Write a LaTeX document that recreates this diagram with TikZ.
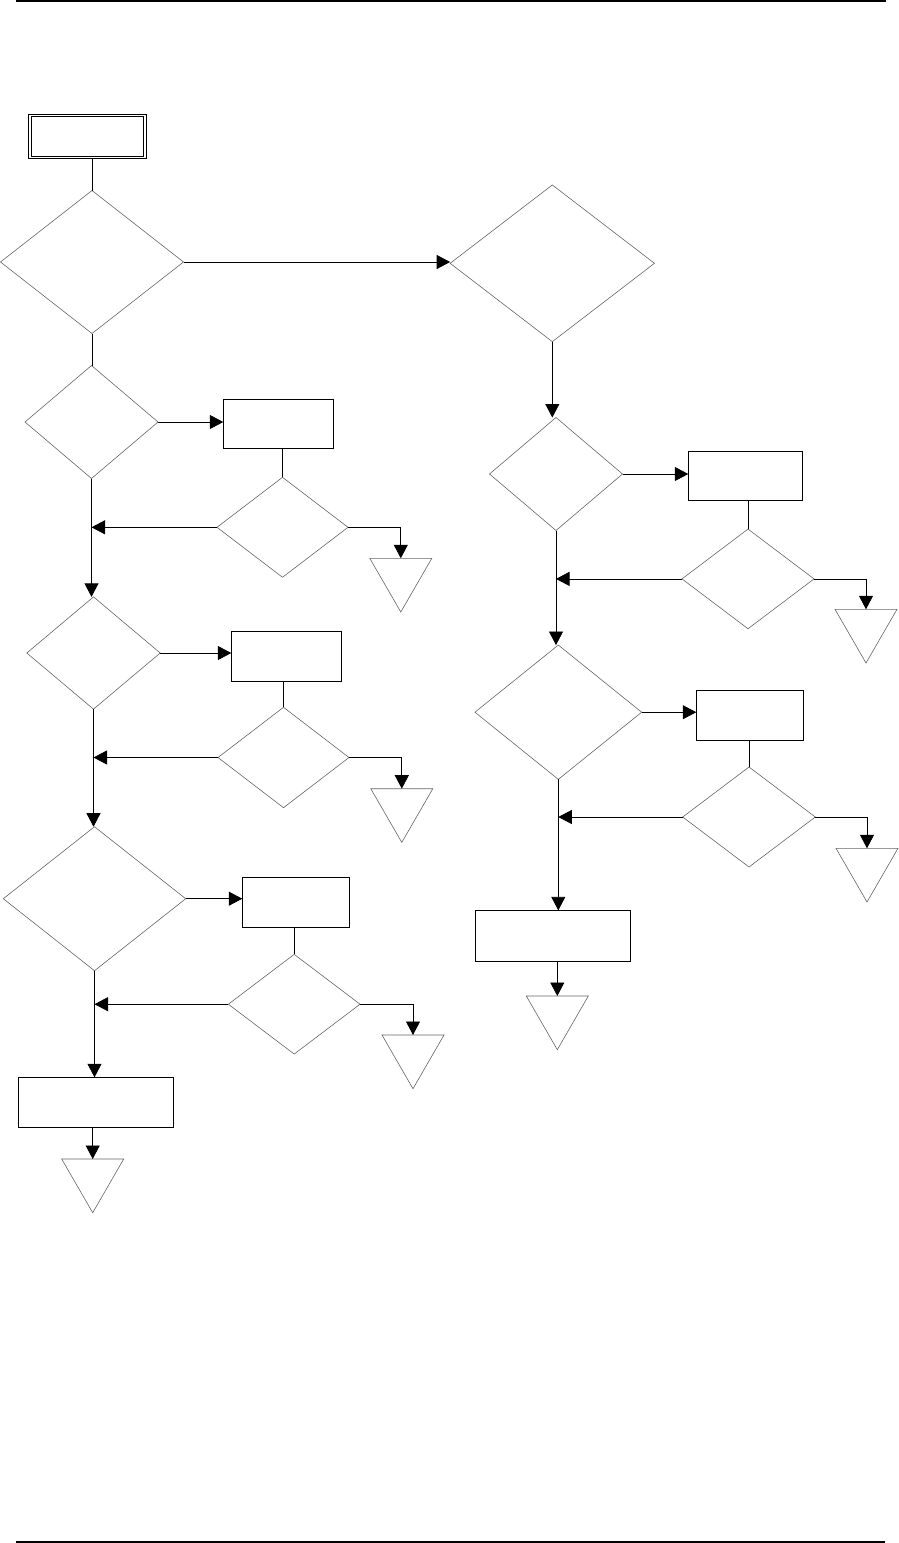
\documentclass[tikz,border=0pt]{standalone}
\usetikzlibrary{shapes.geometric,arrows.meta}
\begin{document}
\begin{tikzpicture}[x=1pt,y=-1pt,
  dec/.style={shape=diamond, draw=black!60, line width=0.6pt, inner sep=0pt, outer sep=0pt},
  procbox/.style={rectangle, draw=black, line width=0.8pt, inner sep=0pt, outer sep=0pt},
  endtri/.style={regular polygon, regular polygon sides=3, shape border rotate=180,
     minimum size=71.6pt, draw=black!60, line width=0.6pt, inner sep=0pt, outer sep=0pt, anchor=north},
  conn/.style={line width=0.8pt, draw=black},
  arr/.style={conn, -{Triangle[length=13.5pt,width=14pt]}}]
\useasboundingbox (0,0) rectangle (899,1543);
\fill[white] (0,0) rectangle (899,1543);
% page rules
\draw[line width=2pt] (16,1) -- (886,1);
\draw[line width=2.4pt] (16,1541.8) -- (885,1541.8);

% left column
\node[procbox, double, double distance=1.7pt, minimum width=115pt, minimum height=42pt] (start) at (87.5,136.5) {};
\node[dec, minimum width=183pt, minimum height=143pt] (d1) at (92,262) {};
\node[dec, minimum width=133pt, minimum height=113pt] (d2) at (91.5,422) {};
\node[procbox, minimum width=110.4pt, minimum height=49pt] (b2) at (278.5,424) {};
\node[dec, minimum width=131pt, minimum height=100pt] (s2) at (282.5,527.3) {};
\node[endtri] (t2) at (400.8,558.3) {};
\node[dec, minimum width=133.4pt, minimum height=112.3pt] (d3) at (93.5,653) {};
\node[procbox, minimum width=110.4pt, minimum height=50pt] (b3) at (286.5,656.3) {};
\node[dec, minimum width=131pt, minimum height=100.4pt] (s3) at (283.5,757.5) {};
\node[endtri] (t3) at (401.8,788.7) {};
\node[dec, minimum width=182.4pt, minimum height=144pt] (d4) at (94.5,898.7) {};
\node[procbox, minimum width=107.4pt, minimum height=50pt] (b4) at (296,902.3) {};
\node[dec, minimum width=131.7pt, minimum height=99.7pt] (s4) at (294.2,1004.2) {};
\node[endtri] (t4) at (413,1035) {};
\node[procbox, minimum width=155.4pt, minimum height=50pt] (b5) at (96,1102.3) {};
\node[endtri] (t5) at (92.7,1159) {};

% right column
\node[dec, minimum width=204.3pt, minimum height=156.7pt] (r1) at (552.3,263.3) {};
\node[dec, minimum width=133pt, minimum height=113pt] (r2) at (556,474) {};
\node[procbox, minimum width=114.4pt, minimum height=49pt] (rb2) at (745.5,475.8) {};
\node[dec, minimum width=132pt, minimum height=99.7pt] (rs2) at (748,578.9) {};
\node[endtri] (rt2) at (866,609.3) {};
\node[dec, minimum width=166.7pt, minimum height=134.3pt] (r3) at (558.3,712.2) {};
\node[procbox, minimum width=107.4pt, minimum height=50pt] (rb3) at (750,715.3) {};
\node[dec, minimum width=132.6pt, minimum height=100pt] (rs3) at (749,817) {};
\node[endtri] (rt3) at (867,848.3) {};
\node[procbox, minimum width=155.4pt, minimum height=50.7pt] (rb4) at (553,935.7) {};
\node[endtri] (rt4) at (557.3,996) {};

% left connectors
\draw[conn] (start.south -| d1.north) -- (d1.north);
\draw[arr] (d1.east) -- (d1.east -| r1.west);
\draw[conn] (d1.south) -- (d1.south |- d2.north);
\draw[arr] (d2.east) -- (d2.east -| b2.west);
\draw[conn] (b2.south -| s2.north) -- (s2.north);
\draw[arr] (s2.west) -- (s2.west -| d2.south);
\draw[arr] (s2.east) -| (t2.north);
\draw[arr] (d2.south) -- (d2.south |- d3.north);
\draw[arr] (d3.east) -- (d3.east -| b3.west);
\draw[conn] (b3.south -| s3.north) -- (s3.north);
\draw[arr] (s3.west) -- (s3.west -| d3.south);
\draw[arr] (s3.east) -| (t3.north);
\draw[arr] (d3.south) -- (d3.south |- d4.north);
\draw[arr] (d4.east) -- (d4.east -| b4.west);
\draw[conn] (b4.south -| s4.north) -- (s4.north);
\draw[arr] (s4.west) -- (s4.west -| d4.south);
\draw[arr] (s4.east) -| (t4.north);
\draw[arr] (d4.south) -- (d4.south |- b5.north);
\draw[arr] (b5.south -| t5.north) -- (t5.north);

% right connectors
\draw[arr] (r1.south) -- (r1.south |- r2.north);
\draw[arr] (r2.east) -- (r2.east -| rb2.west);
\draw[conn] (rb2.south -| rs2.north) -- (rs2.north);
\draw[arr] (rs2.west) -- (rs2.west -| r2.south);
\draw[arr] (rs2.east) -| (rt2.north);
\draw[arr] (r2.south) -- (r2.south |- r3.north);
\draw[arr] (r3.east) -- (r3.east -| rb3.west);
\draw[conn] (rb3.south -| rs3.north) -- (rs3.north);
\draw[arr] (rs3.west) -- (rs3.west -| r3.south);
\draw[arr] (rs3.east) -| (rt3.north);
\draw[arr] (r3.south) -- (r3.south |- rb4.north);
\draw[arr] (rb4.south -| rt4.north) -- (rt4.north);
\end{tikzpicture}
\end{document}
